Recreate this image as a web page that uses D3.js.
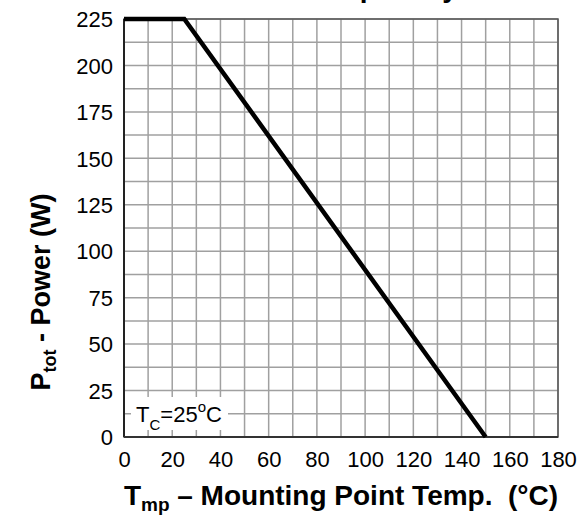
<!DOCTYPE html>
<html><head><meta charset="utf-8">
<script src="https://cdn.jsdelivr.net/npm/d3@7"></script>
<style>
body{margin:0;background:#fff;}
text{font-family:"Liberation Sans",Arial,sans-serif;}
</style></head>
<body>
<svg id="c" width="579" height="515"></svg>
<script>
const tempX = [0, 25, 150];
const powerY = [225, 225, 0];
const xTicks = [0,20,40,60,80,100,120,140,160,180];
const yTicks = [0,25,50,75,100,125,150,175,200,225];
const xGrid = d3.range(0, 181, 10);
const yGrid = d3.range(0, 225.1, 12.5);

const svg = d3.select("#c");
const L=124, R=558, T=19, B=437;
const x = d3.scaleLinear().domain([0,180]).range([L,R]);
const y = d3.scaleLinear().domain([0,225]).range([B,T]);

// title (mostly cut off, as in the reference)
svg.append("text").attr("x",345).attr("y",-3).attr("text-anchor","middle")
  .attr("font-size",28).attr("font-weight","bold").text("Power Capability");

const g = svg.append("g");
g.selectAll(".vg").data(xGrid).join("line")
  .attr("x1",d=>x(d)).attr("x2",d=>x(d)).attr("y1",T).attr("y2",B)
  .attr("stroke","#a0a0a0").attr("stroke-width",1.5);
g.selectAll(".hg").data(yGrid).join("line")
  .attr("y1",d=>y(d)).attr("y2",d=>y(d)).attr("x1",L).attr("x2",R)
  .attr("stroke","#a0a0a0").attr("stroke-width",1.5);

// frame
g.append("rect").attr("x",L).attr("y",T).attr("width",R-L).attr("height",B-T)
  .attr("fill","none").attr("stroke","#555").attr("stroke-width",1.5);
g.append("line").attr("x1",L).attr("x2",L).attr("y1",T).attr("y2",B).attr("stroke","#222").attr("stroke-width",2);
g.append("line").attr("x1",L).attr("x2",R).attr("y1",B).attr("y2",B).attr("stroke","#333").attr("stroke-width",2);

// axes tick labels via d3 axes
const xAxis = d3.axisBottom(x).tickValues(xTicks).tickSize(0).tickPadding(0);
const xa = svg.append("g").attr("transform",`translate(0,${451})`).call(xAxis);
xa.select(".domain").remove();
xa.selectAll("text").attr("font-size",22).attr("fill","#000").attr("dy","0.71em")
  .style("font-family","'Liberation Sans',Arial,sans-serif");

const yAxis = d3.axisLeft(y).tickValues(yTicks).tickSize(0).tickPadding(0);
const ya = svg.append("g").attr("transform",`translate(${113},0)`).call(yAxis);
ya.select(".domain").remove();
ya.selectAll("text").attr("font-size",22).attr("fill","#000").attr("dy","0.35em")
  .style("font-family","'Liberation Sans',Arial,sans-serif");

// data line
const line = d3.line().x((d,i)=>x(tempX[i])).y((d,i)=>y(powerY[i]));
svg.append("path").datum(tempX).attr("d",line).attr("fill","none")
  .attr("stroke","#000").attr("stroke-width",4.5).attr("stroke-linejoin","miter");

// annotation
svg.append("rect").attr("x",131).attr("y",397).attr("width",97).attr("height",33).attr("fill","#fff");
const ann = svg.append("text").attr("x",136).attr("y",422).attr("font-size",22);
ann.append("tspan").text("T");
ann.append("tspan").attr("font-size",15).attr("dy",8).text("C");
ann.append("tspan").attr("dy",-8).text("=25");
ann.append("tspan").attr("font-size",15).attr("dy",-10).text("o");
ann.append("tspan").attr("dy",10).text("C");

// x axis label
const xl = svg.append("text").attr("x",341).attr("y",505).attr("text-anchor","middle")
  .attr("font-size",28).attr("font-weight","bold").attr("xml:space","preserve");
xl.append("tspan").text("T");
xl.append("tspan").attr("font-size",19).attr("dy",6).text("mp");
xl.append("tspan").attr("dy",-6).text(" \u2013 Mounting Point Temp.  (\u00B0C)");

// y axis label
const yl = svg.append("text").attr("transform","translate(50,292) rotate(-90)")
  .attr("text-anchor","middle").attr("font-size",27).attr("font-weight","bold");
yl.append("tspan").text("P");
yl.append("tspan").attr("font-size",18).attr("dy",6).text("tot");
yl.append("tspan").attr("dy",-6).text(" - Power (W)");
</script>
</body></html>
